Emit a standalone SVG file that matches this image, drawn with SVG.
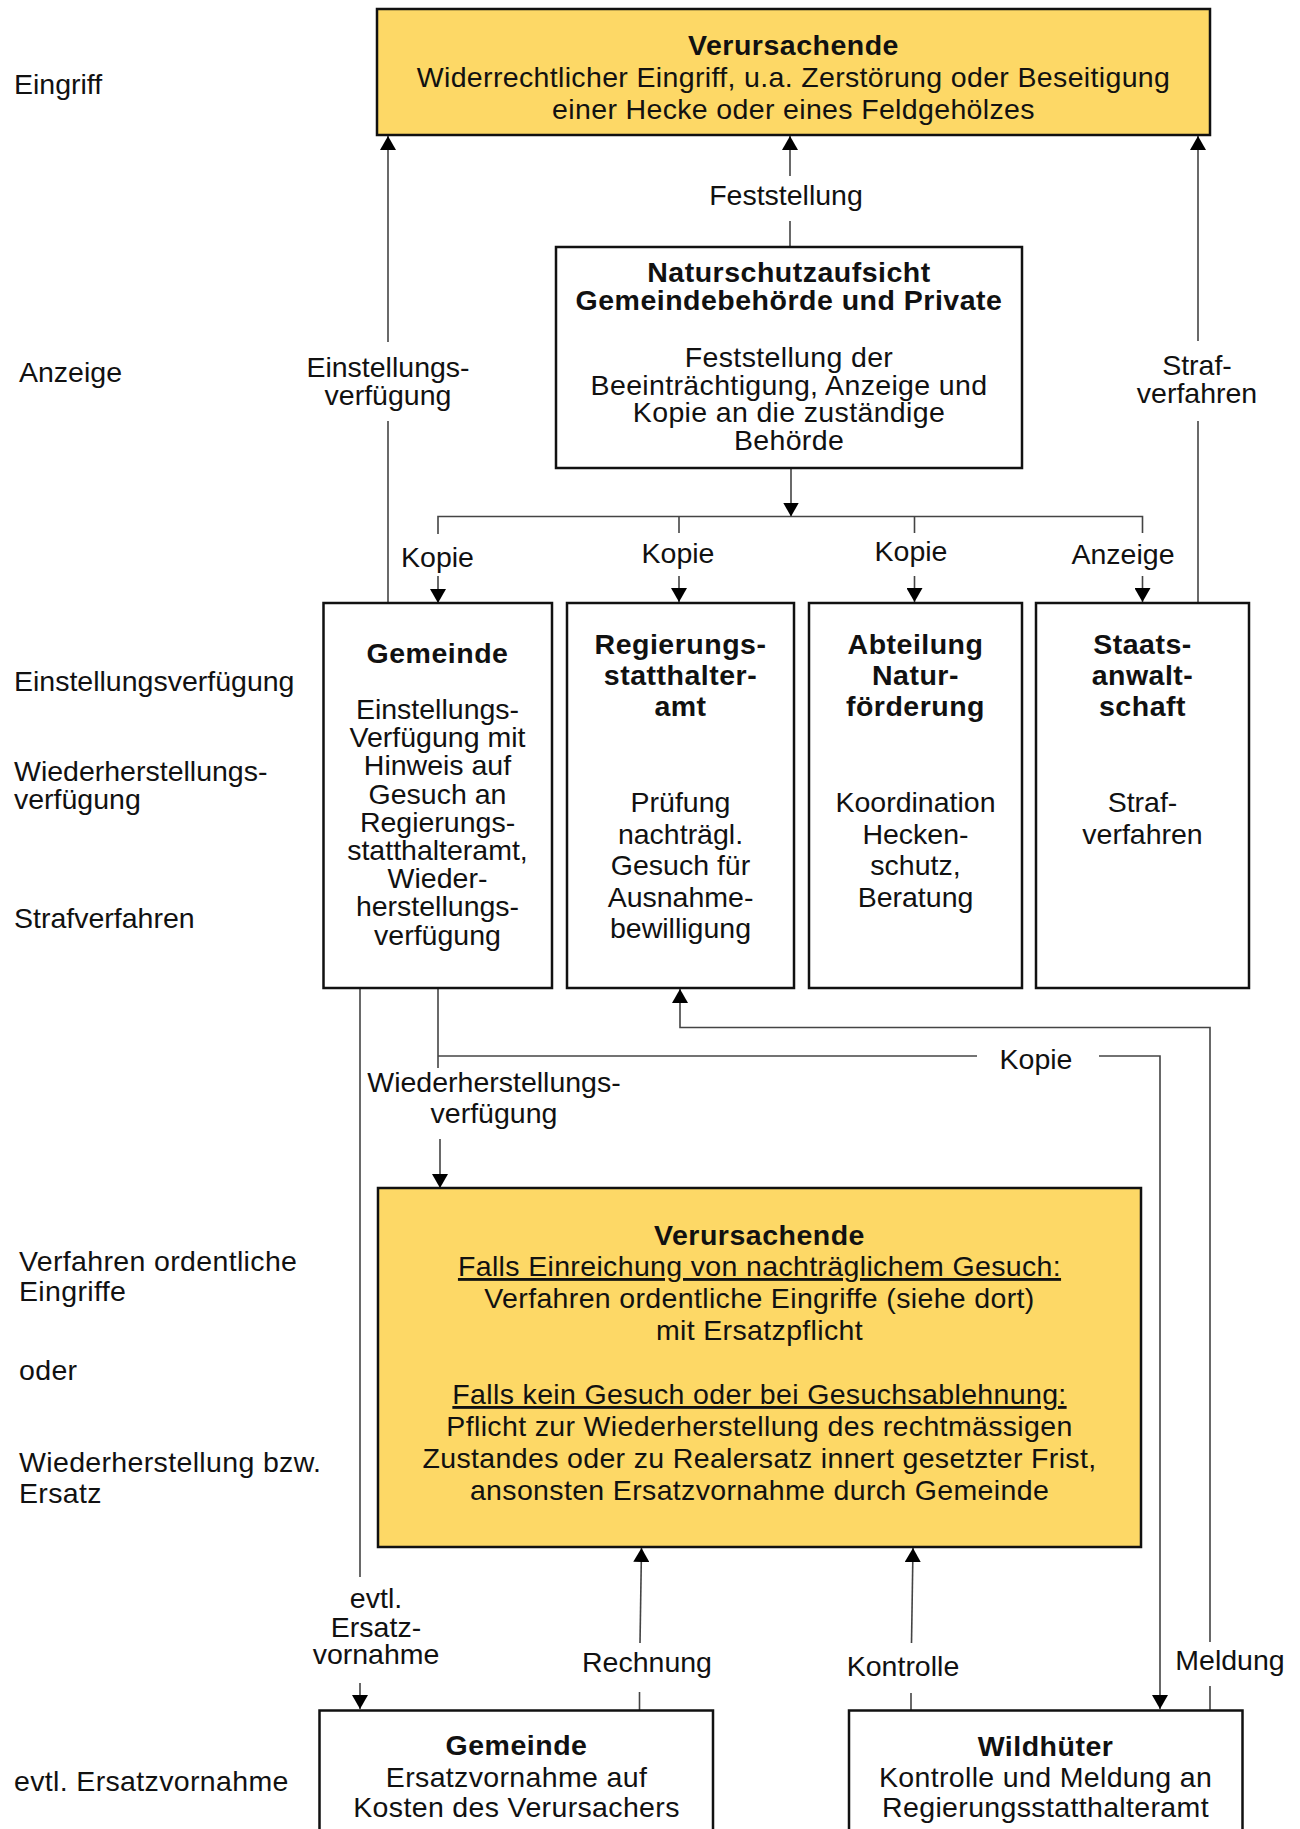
<svg xmlns="http://www.w3.org/2000/svg" width="1300" height="1829" viewBox="0 0 1300 1829">
<defs>
<style>
text{font-family:"Liberation Sans",Arial,sans-serif;font-size:28.5px;fill:#111;}
.b{font-weight:bold;letter-spacing:0.5px;}
.m{text-anchor:middle;}
.w{letter-spacing:0.35px;}
.u{text-decoration:underline;}
.box{fill:#fff;stroke:#111;stroke-width:2.5;}
.yel{fill:#FDD866;stroke:#111;stroke-width:2.5;}
.c{fill:none;stroke:#444;stroke-width:1.6;}
</style>
<marker id="ah" viewBox="0 0 14 16" markerWidth="14" markerHeight="16" refX="14" refY="8" orient="auto" markerUnits="userSpaceOnUse">
<path d="M0,0 L14,8 L0,16 z" fill="#000"/>
</marker>
</defs>

<g id="lanes">
<text x="14" y="94">Eingriff</text>
<text x="19" y="382">Anzeige</text>
<text x="14" y="691">Einstellungsverfügung</text>
<text x="14" y="781">Wiederherstellungs-</text>
<text x="14" y="809">verfügung</text>
<text x="14" y="928">Strafverfahren</text>
<text class="w" x="19" y="1271">Verfahren ordentliche</text>
<text class="w" x="19" y="1301">Eingriffe</text>
<text class="w" x="19" y="1380">oder</text>
<text class="w" x="19" y="1472">Wiederherstellung bzw.</text>
<text class="w" x="19" y="1503">Ersatz</text>
<text class="w" x="14" y="1791">evtl. Ersatzvornahme</text>
</g>

<g id="connectors">
<line class="c" x1="790" y1="247" x2="790" y2="221"/>
<line class="c" x1="790" y1="176" x2="790" y2="136" marker-end="url(#ah)"/>
<text class="m" x="786" y="205">Feststellung</text>
<line class="c" x1="388" y1="603" x2="388" y2="421"/>
<line class="c" x1="388" y1="342" x2="388" y2="136" marker-end="url(#ah)"/>
<text class="m" x="388" y="377">Einstellungs-</text>
<text class="m" x="388" y="405">verfügung</text>
<line class="c" x1="1198" y1="602" x2="1198" y2="421"/>
<line class="c" x1="1198" y1="341" x2="1198" y2="136" marker-end="url(#ah)"/>
<text class="m" x="1197" y="375">Straf-</text>
<text class="m" x="1197" y="403">verfahren</text>
<line class="c" x1="791" y1="468" x2="791" y2="516.5" marker-end="url(#ah)"/>
<polyline class="c" points="438,534 438,516.5 1142.5,516.5 1142.5,533"/>
<line class="c" x1="679" y1="516.5" x2="679" y2="533"/>
<line class="c" x1="914.5" y1="516.5" x2="914.5" y2="533"/>
<line class="c" x1="438" y1="576" x2="438" y2="603" marker-end="url(#ah)"/>
<line class="c" x1="679" y1="576" x2="679" y2="602" marker-end="url(#ah)"/>
<line class="c" x1="914.5" y1="576" x2="914.5" y2="602" marker-end="url(#ah)"/>
<line class="c" x1="1142.5" y1="576" x2="1142.5" y2="602" marker-end="url(#ah)"/>
<text class="m" x="437.5" y="567">Kopie</text>
<text class="m" x="678" y="563">Kopie</text>
<text class="m" x="911" y="561">Kopie</text>
<text class="m" x="1123" y="564">Anzeige</text>
<polyline class="c" points="1210,1642 1210,1027.5 680,1027.5 680,989" marker-end="url(#ah)"/>
<line class="c" x1="1210" y1="1710" x2="1210" y2="1686"/>
<text class="m" x="1230" y="1670">Meldung</text>
<polyline class="c" points="438,989 438,1068"/>
<line class="c" x1="438" y1="1056" x2="977" y2="1056"/>
<polyline class="c" points="1099,1056 1160,1056 1160,1709" marker-end="url(#ah)"/>
<text class="m" x="1036" y="1069">Kopie</text>
<line class="c" x1="440" y1="1139" x2="440" y2="1188" marker-end="url(#ah)"/>
<text class="m" x="494" y="1092">Wiederherstellungs-</text>
<text class="m" x="494" y="1123">verfügung</text>
<line class="c" x1="360" y1="989" x2="360" y2="1577"/>
<line class="c" x1="360" y1="1683" x2="360" y2="1709" marker-end="url(#ah)"/>
<text class="m" x="376" y="1608">evtl.</text>
<text class="m" x="376" y="1637">Ersatz-</text>
<text class="m" x="376" y="1664">vornahme</text>
<line class="c" x1="639.5" y1="1710" x2="639.5" y2="1692"/>
<line class="c" x1="640" y1="1643" x2="641.5" y2="1548" marker-end="url(#ah)"/>
<text class="m" x="647" y="1672">Rechnung</text>
<line class="c" x1="911" y1="1710" x2="911" y2="1693"/>
<line class="c" x1="911.5" y1="1643" x2="913" y2="1548" marker-end="url(#ah)"/>
<text class="m" x="903" y="1676">Kontrolle</text>
</g>

<g id="node-verursachende-top">
<rect class="yel" x="377" y="9" width="833" height="126"/>
<text class="m b" x="793.5" y="55">Verursachende</text>
<text class="m w" x="793.5" y="87">Widerrechtlicher Eingriff, u.a. Zerstörung oder Beseitigung</text>
<text class="m w" x="793.5" y="118.5">einer Hecke oder eines Feldgehölzes</text>
</g>

<g id="node-naturschutzaufsicht">
<rect class="box" x="556" y="247" width="466" height="221"/>
<text class="m b" x="789" y="282">Naturschutzaufsicht</text>
<text class="m b" x="789" y="309.5">Gemeindebehörde und Private</text>
<text class="m w" x="789" y="367">Feststellung der</text>
<text class="m w" x="789" y="394.5">Beeinträchtigung, Anzeige und</text>
<text class="m w" x="789" y="422">Kopie an die zuständige</text>
<text class="m w" x="789" y="449.5">Behörde</text>
</g>

<g id="node-gemeinde">
<rect class="box" x="323.5" y="603" width="228.5" height="385"/>
<text class="m b" x="437.5" y="663">Gemeinde</text>
<text class="m" x="437.5" y="719">Einstellungs-</text>
<text class="m" x="437.5" y="747.2">Verfügung mit</text>
<text class="m" x="437.5" y="775.4">Hinweis auf</text>
<text class="m" x="437.5" y="803.6">Gesuch an</text>
<text class="m" x="437.5" y="831.8">Regierungs-</text>
<text class="m" x="437.5" y="860">statthalteramt,</text>
<text class="m" x="437.5" y="888.2">Wieder-</text>
<text class="m" x="437.5" y="916.4">herstellungs-</text>
<text class="m" x="437.5" y="944.6">verfügung</text>
</g>

<g id="node-regierungsstatthalteramt">
<rect class="box" x="567" y="603" width="227" height="385"/>
<text class="m b" x="680.5" y="654">Regierungs-</text>
<text class="m b" x="680.5" y="685">statthalter-</text>
<text class="m b" x="680.5" y="716">amt</text>
<text class="m" x="680.5" y="812">Prüfung</text>
<text class="m" x="680.5" y="843.5">nachträgl.</text>
<text class="m" x="680.5" y="875">Gesuch für</text>
<text class="m" x="680.5" y="906.5">Ausnahme-</text>
<text class="m" x="680.5" y="938">bewilligung</text>
</g>

<g id="node-abteilung">
<rect class="box" x="809" y="603" width="213" height="385"/>
<text class="m b" x="915.5" y="654">Abteilung</text>
<text class="m b" x="915.5" y="685">Natur-</text>
<text class="m b" x="915.5" y="716">förderung</text>
<text class="m" x="915.5" y="812">Koordination</text>
<text class="m" x="915.5" y="843.5">Hecken-</text>
<text class="m" x="915.5" y="875">schutz,</text>
<text class="m" x="915.5" y="906.5">Beratung</text>
</g>

<g id="node-staatsanwaltschaft">
<rect class="box" x="1036" y="603" width="213" height="385"/>
<text class="m b" x="1142.5" y="654">Staats-</text>
<text class="m b" x="1142.5" y="685">anwalt-</text>
<text class="m b" x="1142.5" y="716">schaft</text>
<text class="m" x="1142.5" y="812">Straf-</text>
<text class="m" x="1142.5" y="843.5">verfahren</text>
</g>

<g id="node-verursachende-bottom">
<rect class="yel" x="378" y="1188" width="763" height="359"/>
<text class="m b" x="759.5" y="1245">Verursachende</text>
<text class="m u w" x="759.5" y="1276">Falls Einreichung von nachträglichem Gesuch:</text>
<text class="m w" x="759.5" y="1308">Verfahren ordentliche Eingriffe (siehe dort)</text>
<text class="m w" x="759.5" y="1340">mit Ersatzpflicht</text>
<text class="m u w" x="759.5" y="1404">Falls kein Gesuch oder bei Gesuchsablehnung:</text>
<text class="m w" x="759.5" y="1436">Pflicht zur Wiederherstellung des rechtmässigen</text>
<text class="m w" x="759.5" y="1468">Zustandes oder zu Realersatz innert gesetzter Frist,</text>
<text class="m w" x="759.5" y="1500">ansonsten Ersatzvornahme durch Gemeinde</text>
</g>

<g id="node-gemeinde-ersatz">
<rect class="box" x="319.5" y="1710.5" width="393.5" height="140"/>
<text class="m b" x="516.5" y="1755">Gemeinde</text>
<text class="m w" x="516.5" y="1787">Ersatzvornahme auf</text>
<text class="m w" x="516.5" y="1817">Kosten des Verursachers</text>
</g>

<g id="node-wildhueter">
<rect class="box" x="849" y="1710.5" width="393.5" height="140"/>
<text class="m b" x="1045.5" y="1756">Wildhüter</text>
<text class="m w" x="1045.5" y="1787">Kontrolle und Meldung an</text>
<text class="m w" x="1045.5" y="1817">Regierungsstatthalteramt</text>
</g>
</svg>
